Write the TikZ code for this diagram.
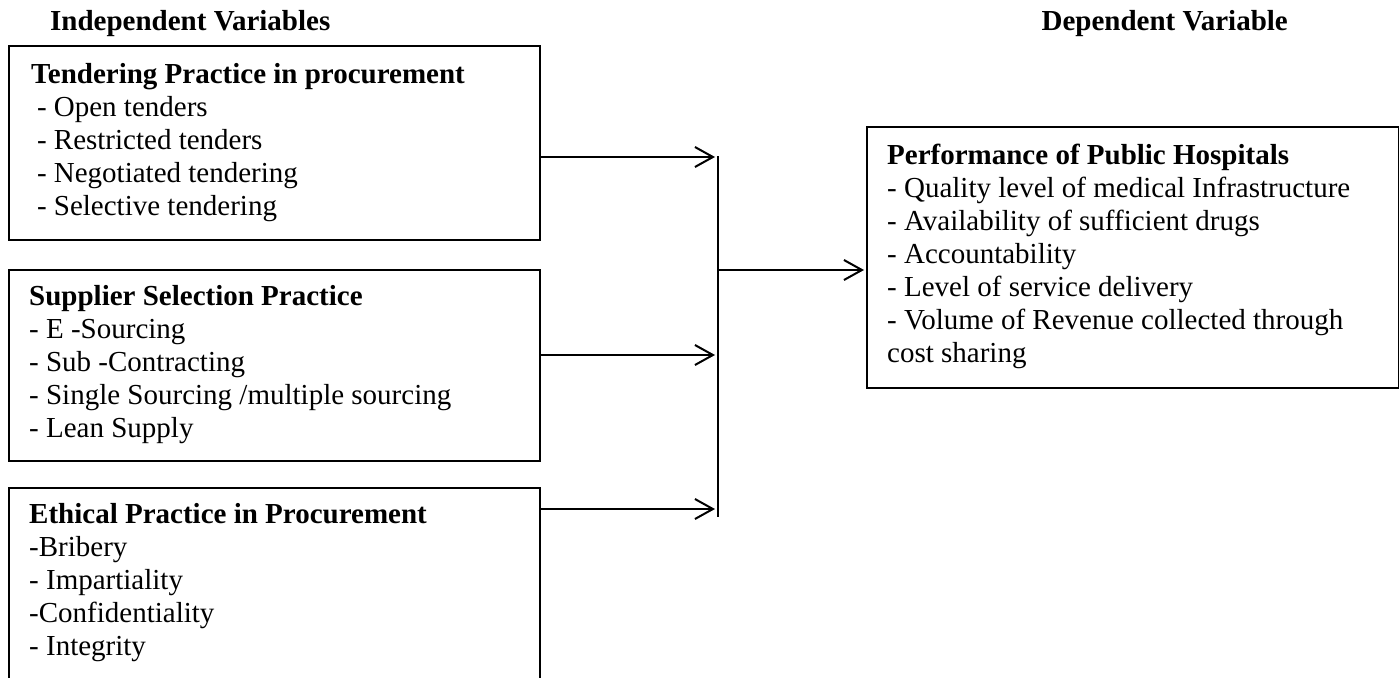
\documentclass[tikz,border=0pt]{standalone}
\usepackage{fontspec}
\setmainfont{Liberation Serif}
\usetikzlibrary{arrows.meta}
\tikzset{
  box/.style={draw=black, line width=1.8pt, inner sep=0pt, anchor=north west},
  txt/.style={anchor=north west, inner sep=0pt, align=left, font=\fontsize{29}{33}\selectfont},
  head/.style={inner sep=0pt, font=\fontsize{29}{33}\selectfont\bfseries},
  conn/.style={line width=2pt},
  arr/.style={line width=2pt, -{Straight Barb[length=18pt,width=20pt,line width=2pt]}}
}
\newcommand{\fl}{\rule{0pt}{24pt}}
\begin{document}
\begin{tikzpicture}[x=1pt,y=-1pt]
\useasboundingbox (0,0) rectangle (1399,677);
\clip (0,0) rectangle (1399,677);
% headings
\node[head, anchor=base west] (hind) at (50,31) {Independent Variables};
\node[head, anchor=base east] (hdep) at (1288,31) {Dependent Variable};
% boxes
\node[box, minimum width=531pt, minimum height=194pt] (b1) at (8,45) {};
\node[box, minimum width=531pt, minimum height=191pt] (b2) at (8,269) {};
\node[box, minimum width=531pt, minimum height=260pt] (b3) at (8,487) {};
\node[box, minimum width=532pt, minimum height=261pt] (perf) at (866,126) {};
% texts
\node[txt] (t1) at (31,59) {\fl\textbf{Tendering Practice in procurement}\\
\hspace*{0.2em}- Open tenders\\
\hspace*{0.2em}- Restricted tenders\\
\hspace*{0.2em}- Negotiated tendering\\
\hspace*{0.2em}- Selective tendering};
\node[txt] (t2) at (29,281) {\fl\textbf{Supplier Selection Practice}\\
- E -Sourcing\\
- Sub -Contracting\\
- Single Sourcing /multiple sourcing\\
- Lean Supply};
\node[txt] (t3) at (29,499) {\fl\textbf{Ethical Practice in Procurement}\\
-Bribery\\
- Impartiality\\
-Confidentiality\\
- Integrity};
\node[txt] (t4) at (887,140) {\fl\textbf{Performance of Public Hospitals}\\
- Quality level of medical Infrastructure\\
- Availability of sufficient drugs\\
- Accountability\\
- Level of service delivery\\
- Volume of Revenue collected through\\
cost sharing};
% connectors
\coordinate (a1) at (715,157);
\coordinate (a2) at (715,355);
\coordinate (a3) at (715,509);
\coordinate (vtop) at (718,156);
\coordinate (vbot) at (718,517);
\coordinate (vmid) at (718,270);
\draw[arr] (b1.east |- a1) -- (a1);
\draw[arr] (b2.east |- a2) -- (a2);
\draw[arr] (b3.east |- a3) -- (a3);
\draw[conn] (vtop) -- (vbot);
\draw[arr, shorten >=2pt] (vmid) -- (perf.west |- vmid);
\end{tikzpicture}
\end{document}
